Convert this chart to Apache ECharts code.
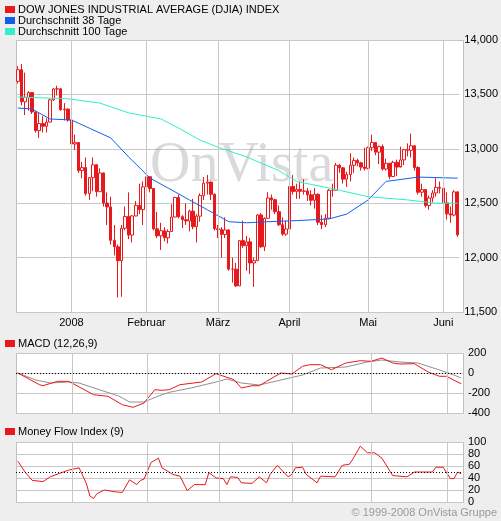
<!DOCTYPE html>
<html>
<head>
<meta charset="utf-8">
<script src="https://cdn.jsdelivr.net/npm/echarts@6/dist/echarts.min.js"></script>
<style>body{margin:0;background:#eeeeee}#chart{width:501px;height:521px}</style>
</head>
<body>
<div id="chart"></div>
<script>
// Handelstage 10.12.2007 - 06.06.2008
const monthDays = [
  ['12', [10,11,12,13,14,17,18,19,20,21,24,26,27,28,31]],
  ['01', [2,3,4,7,8,9,10,11,14,15,16,17,18,22,23,24,25,28,29,30,31]],
  ['02', [1,4,5,6,7,8,11,12,13,14,15,19,20,21,22,25,26,27,28,29]],
  ['03', [3,4,5,6,7,10,11,12,13,14,17,18,19,20,24,25,26,27,28,31]],
  ['04', [1,2,3,4,7,8,9,10,11,14,15,16,17,18,21,22,23,24,25,28,29,30]],
  ['05', [1,2,5,6,7,8,9,12,13,14,15,16,19,20,21,22,23,27,28,29,30]],
  ['06', [2,3,4,5,6]]
];
const monthLabels = {'01': '2008', '02': 'Februar', '03': 'März', '04': 'April', '05': 'Mai', '06': 'Juni'};

// [open, close, low, high]
const ohlc = [
  [13620,13727,13600,13760],[13727,13432,13400,13780],[13432,13473,13310,13700],[13473,13517,13350,13530],[13517,13339,13320,13520],
  [13339,13167,13150,13340],[13167,13232,13100,13330],[13232,13207,13150,13300],[13207,13245,13150,13280],[13245,13450,13245,13460],
  [13450,13550,13440,13560],[13550,13551,13490,13580],[13551,13359,13350,13560],[13359,13365,13260,13420],[13365,13264,13250,13370],
  [13264,13044,12980,13290],[13044,13057,12990,13130],[13057,12800,12780,13060],[12800,12827,12730,12880],[12827,12589,12570,12920],
  [12589,12735,12530,12740],[12735,12853,12610,12920],[12853,12606,12560,12860],[12606,12778,12606,12820],[12778,12501,12470,12780],
  [12501,12466,12300,12600],[12466,12159,12120,12560],[12159,12099,12020,12300],[12099,11971,11634,12120],[11971,12270,11640,12300],
  [12270,12378,12250,12470],[12378,12207,12170,12600],[12207,12383,12140,12390],[12383,12480,12380,12520],[12480,12442,12400,12680],
  [12442,12650,12300,12700],
  [12650,12743,12620,12770],[12743,12635,12600,12750],[12635,12265,12250,12640],[12265,12200,12180,12420],[12200,12247,12070,12320],
  [12247,12182,12150,12280],[12182,12240,12130,12260],[12240,12373,12240,12490],[12373,12552,12370,12560],[12552,12376,12360,12580],
  [12376,12348,12270,12390],[12348,12337,12300,12500],[12337,12427,12240,12440],[12427,12284,12260,12540],[12284,12381,12140,12400],
  [12381,12570,12330,12590],[12570,12684,12530,12740],[12684,12694,12580,12760],[12694,12582,12530,12700],[12582,12266,12250,12590],
  [12266,12258,12180,12300],[12258,12213,12000,12280],[12213,12254,12180,12370],[12254,11894,11880,12260],[11894,11894,11770,12000],
  [11894,11740,11730,11950],[11740,12156,11740,12160],[12156,12110,12090,12340],[12110,12145,11880,12200],[12145,11951,11850,12180],
  [11951,11972,11730,12000],[11972,12392,11970,12400],[12392,12099,12090,12410],[12099,12361,12060,12370],[12361,12548,12360,12600],
  [12548,12532,12440,12580],[12532,12422,12400,12540],[12422,12302,12290,12480],[12302,12216,12200,12370],[12216,12263,12200,12340],
  [12263,12654,12260,12660],[12654,12608,12580,12760],[12608,12627,12540,12680],[12627,12610,12540,12700],[12610,12612,12580,12720],
  [12612,12577,12520,12640],[12577,12527,12480,12620],[12527,12582,12450,12640],[12582,12325,12300,12590],[12325,12302,12260,12390],
  [12302,12362,12280,12400],[12362,12619,12360,12630],[12619,12620,12560,12680],[12620,12849,12620,12870],[12849,12825,12780,12860],
  [12825,12721,12680,12830],[12721,12763,12650,12790],[12763,12848,12700,12960],[12848,12892,12780,12920],[12892,12871,12840,12910],
  [12871,12832,12800,12880],[12832,12820,12800,13010],
  [12820,13010,12810,13020],[13010,13058,12980,13130],[13058,12969,12940,13060],[12969,13020,12860,13030],[13020,12814,12800,13040],
  [12814,12867,12800,12910],[12867,12745,12720,12870],[12745,12876,12740,12890],[12876,12832,12750,12900],[12832,12898,12840,13020],
  [12898,12992,12850,13000],[12992,12986,12930,13050],[12986,13028,12920,13140],[13028,12828,12800,13030],[12828,12601,12580,12840],
  [12601,12625,12560,12680],[12625,12479,12460,12630],[12479,12548,12440,12570],[12548,12594,12510,12620],[12594,12646,12560,12730],
  [12646,12638,12590,12700],
  [12638,12503,12420,12640],[12503,12402,12350,12600],[12402,12391,12320,12470],[12391,12604,12380,12620],[12604,12209,12190,12610]
];

// [Tagesindex, Wert]
const ma38 = [[0,13375],[4,13366],[9,13274],[15,13265],[20,13190],[26,13100],[31,12925],[37,12730],[42,12640],[48,12530],[53,12440],
  [59,12330],[64,12320],[70,12330],[78,12340],[87,12355],[92,12400],[98,12530],[103,12700],[112,12740],[123,12730]];
const ma100 = [[0,13476],[14,13460],[23,13420],[31,13330],[40,13275],[45,13190],[51,13080],[56,13015],[64,12925],[73,12800],
  [78,12700],[87,12640],[98,12560],[109,12530],[117,12500],[123,12500]];
const macd = [[0,0],[6,-117],[7,-127],[11,-83],[14,-83],[15,-100],[21,-217],[25,-233],[29,-317],[32,-343],[35,-300],[38,-167],
  [40,-173],[42,-167],[45,-117],[51,-90],[55,-7],[60,-67],[62,-150],[65,-127],[67,-127],[69,-83],[73,0],[76,-10],[79,67],[81,83],
  [84,83],[87,33],[91,100],[95,123],[98,117],[101,150],[104,100],[106,90],[110,93],[114,7],[117,-33],[119,-33],[121,-73],[123,-107]];
const signal = [[0,0],[5,-70],[9,-100],[14,-90],[17,-100],[22,-160],[28,-230],[31,-290],[35,-290],[39,-230],[42,-193],[48,-150],
  [55,-90],[58,-60],[62,-100],[67,-120],[73,-70],[79,-20],[84,50],[91,60],[97,110],[101,130],[106,110],[111,100],[117,30],[121,-20],[123,-50]];
const mfi = [[0,68],[2,50],[4,36],[7,34],[9,42],[14,53],[17,57],[19,31],[20,10],[21,6],[22,14],[24,20],[27,17],[29,16],[31,37],
  [33,29],[34,36],[35,38],[37,66],[39,73],[40,57],[43,46],[45,43],[47,19],[49,29],[52,29],[53,49],[55,40],[57,39],[58,29],[59,42],
  [61,41],[62,32],[65,31],[67,42],[69,32],[70,46],[72,61],[75,42],[76,46],[77,57],[79,58],[80,46],[83,32],[84,43],[88,42],[90,61],
  [92,63],[93,72],[95,93],[97,82],[99,82],[101,73],[104,44],[108,42],[110,50],[115,50],[116,58],[118,58],[120,39],[121,39],[122,50],[123,47]];

const dates = [];
const monthStart = {};
monthDays.forEach(([m, days]) => {
  days.forEach((d, i) => {
    if (i === 0 && monthLabels[m]) monthStart[dates.length] = monthLabels[m];
    dates.push(m + '-' + d);
  });
});
const monthIdx = Object.keys(monthStart).map(Number);

const font = '"Liberation Sans", Arial, sans-serif';
const xBase = (gi, showLabel) => ({
  type: 'category', gridIndex: gi, data: dates, boundaryGap: true,
  axisLine: { show: false }, axisTick: { show: false }, splitLine: { show: false },
  axisLabel: showLabel ? {
    show: true, interval: (i) => monthStart[i] !== undefined,
    formatter: (v, i) => monthStart[i] || '', color: '#000', fontSize: 11, fontFamily: font, margin: 5
  } : { show: false }
});
const yBase = (gi, min, max, interval) => ({
  type: 'value', gridIndex: gi, position: 'right', min: min, max: max, interval: interval,
  axisLine: { show: false }, axisTick: { show: false },
  splitLine: { show: true, lineStyle: { color: '#c8c8c8' } },
  axisLabel: { color: '#000', fontSize: 11, fontFamily: font, margin: 5 }
});
const dotted = (y) => ({ silent: true, symbol: 'none', label: { show: false },
  lineStyle: { color: '#000', type: [1, 2], width: 1 }, data: [{ yAxis: y }] });
// unsichtbare Serie, die nur die Monatslinien trägt
const monthLines = (gi, data) => ({
  type: 'line', xAxisIndex: gi, yAxisIndex: gi, data: data, symbol: 'none', z: 1, silent: true,
  lineStyle: { opacity: 0 },
  markLine: { silent: true, symbol: 'none', label: { show: false }, animation: false,
    lineStyle: { color: '#c8c8c8', type: 'solid', width: 1 },
    data: monthIdx.map(i => ({ xAxis: dates[i] })) }
});

function legendItem(x, y, color, text) {
  return [
    { type: 'rect', left: x, top: y + 2, shape: { width: 10, height: 7 }, style: { fill: color } },
    { type: 'text', left: x + 13, top: y, style: { text: text, fill: '#000', font: '11px ' + font } }
  ];
}
function frame(top, height) {
  return { type: 'rect', left: 16, top: top, z: 0, shape: { width: 447, height: height },
    style: { fill: '#fff', stroke: '#c0c0c0', lineWidth: 1 } };
}

const chart = echarts.init(document.getElementById('chart'));
chart.setOption({
  animation: false,
  backgroundColor: '#eeeeee',
  grid: [
    { left: 16, right: 38, top: 40, height: 272 },
    { left: 16, right: 38, top: 353, height: 60 },
    { left: 16, right: 38, top: 442, height: 60 }
  ],
  xAxis: [xBase(0, true), xBase(1, false), xBase(2, false)],
  yAxis: [yBase(0, 11500, 14000, 500), yBase(1, -400, 200, 200), yBase(2, 0, 100, 20)],
  graphic: [
    frame(40, 272), frame(353, 60), frame(442, 60),
    { type: 'text', left: 150, top: 138, z: 1, style: { text: 'OnVista', fill: 'rgba(150,150,150,0.35)',
      font: '56px "Liberation Serif", "DejaVu Serif", serif' } },
    ...legendItem(5, 4, '#e8191c', 'DOW JONES INDUSTRIAL AVERAGE (DJIA) INDEX'),
    ...legendItem(5, 15, '#1060f0', 'Durchschnitt 38 Tage'),
    ...legendItem(5, 26, '#30f0c8', 'Durchschnitt 100 Tage'),
    ...legendItem(5, 338, '#e8191c', 'MACD (12,26,9)'),
    ...legendItem(5, 426, '#e8191c', 'Money Flow Index (9)'),
    { type: 'text', right: 4, top: 507, style: { text: '© 1999-2008 OnVista Gruppe', fill: '#999', font: '11px ' + font } }
  ],
  series: [
    monthLines(0, ma100), monthLines(1, signal), monthLines(2, mfi),
    { type: 'candlestick', xAxisIndex: 0, yAxisIndex: 0, data: ohlc, barWidth: 3, z: 3,
      itemStyle: { color: '#ffffff', color0: '#e8191c', borderColor: '#e8191c', borderColor0: '#e8191c', borderWidth: 1 } },
    { type: 'line', xAxisIndex: 0, yAxisIndex: 0, data: ma38, symbol: 'none', z: 4, lineStyle: { color: '#1060f0', width: 1 } },
    { type: 'line', xAxisIndex: 0, yAxisIndex: 0, data: ma100, symbol: 'none', z: 4, lineStyle: { color: '#30f0c8', width: 1 } },
    { type: 'line', xAxisIndex: 1, yAxisIndex: 1, data: signal, symbol: 'none', z: 3, lineStyle: { color: '#909090', width: 1 } },
    { type: 'line', xAxisIndex: 1, yAxisIndex: 1, data: macd, symbol: 'none', z: 4, lineStyle: { color: '#e8191c', width: 1 },
      markLine: dotted(0) },
    { type: 'line', xAxisIndex: 2, yAxisIndex: 2, data: mfi, symbol: 'none', z: 4, lineStyle: { color: '#e8191c', width: 1 },
      markLine: dotted(50) }
  ]
});
</script>
</body>
</html>
